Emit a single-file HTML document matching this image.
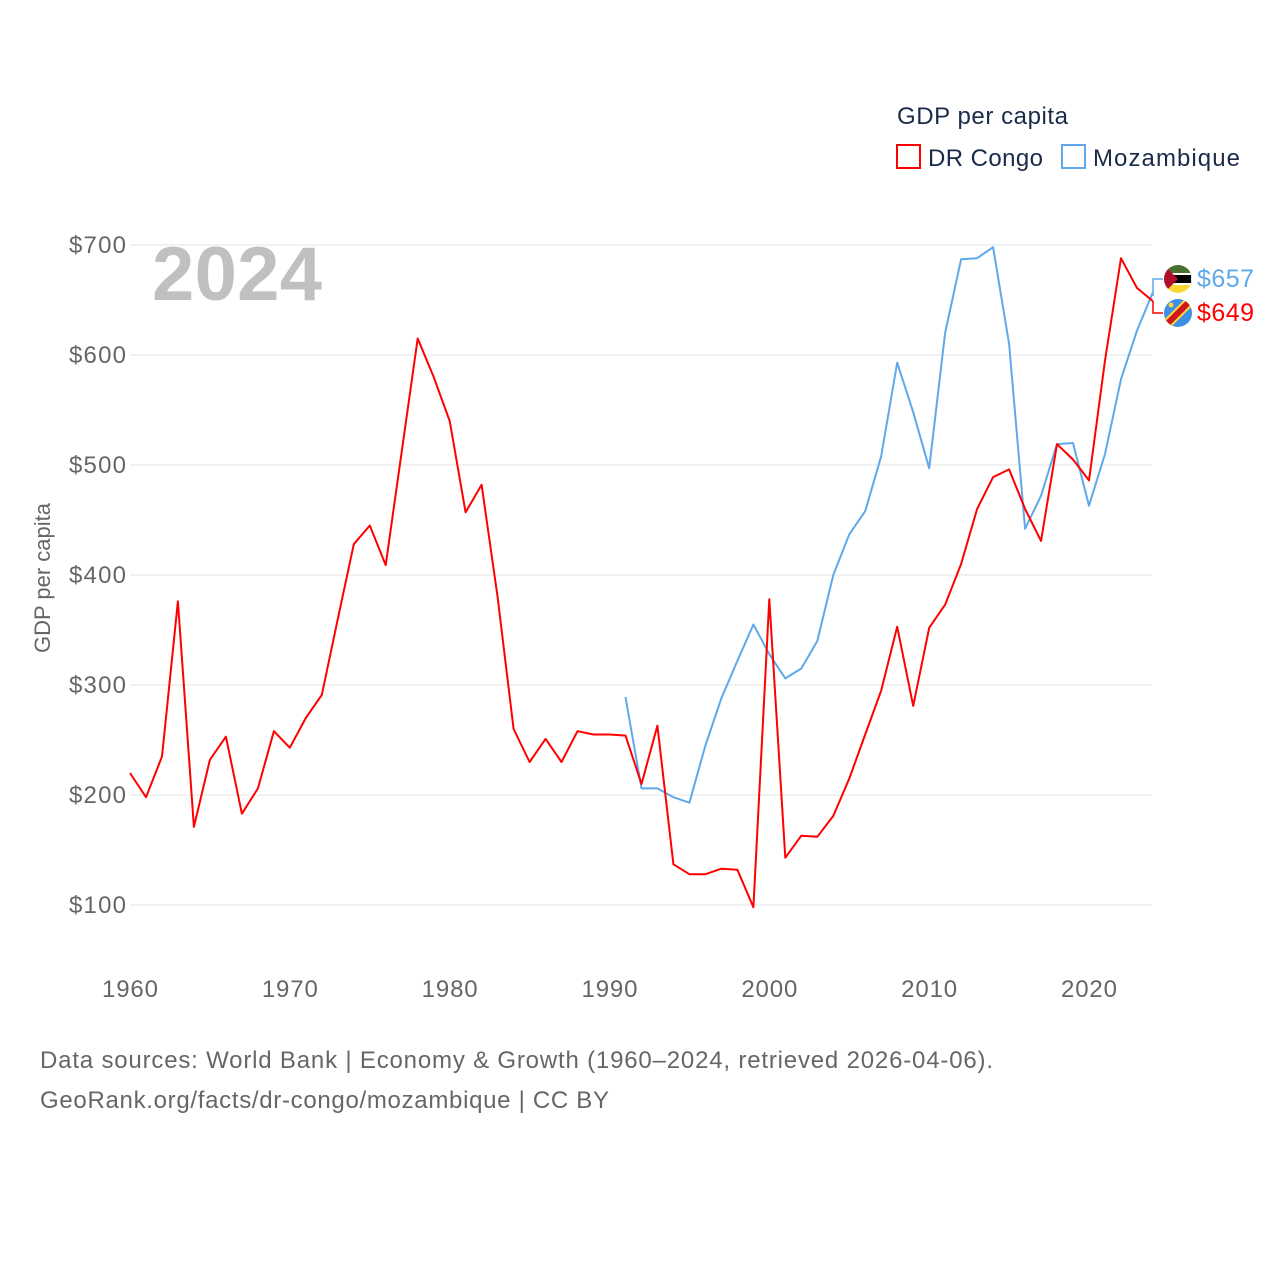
<!DOCTYPE html>
<html><head><meta charset="utf-8"><style>
body{margin:0;background:#fff;font-family:"Liberation Sans",sans-serif}
svg text{font-family:"Liberation Sans",sans-serif}
</style></head><body>
<svg id="c" width="1280" height="1280" xmlns="http://www.w3.org/2000/svg">
<text x="897" y="124" font-size="24" fill="#1a2b4a" textLength="171">GDP per capita</text>
<rect x="897" y="145" width="23" height="23" fill="none" stroke="#f00" stroke-width="2"/>
<text x="928" y="166" font-size="24" fill="#1a2b4a" textLength="115">DR Congo</text>
<rect x="1062" y="145" width="23" height="23" fill="none" stroke="#5fa8ea" stroke-width="2"/>
<text x="1093" y="166" font-size="24" fill="#1a2b4a" textLength="147">Mozambique</text>
<g id="grid"></g>
<text x="152" y="300" font-size="76" font-weight="bold" fill="#c0c0c0" textLength="170">2024</text>
<text transform="translate(50,578) rotate(-90)" text-anchor="middle" font-size="22" fill="#666">GDP per capita</text>
<g id="series"></g>
<g>
<path d="M1163,279 H1153 V296" fill="none" stroke="#5fa8ea" stroke-width="1.5"/>
<path d="M1153,301 V313 H1163" fill="none" stroke="#f00" stroke-width="1.5"/>
<g>
<clipPath id="cm"><circle cx="1178" cy="279" r="14"/></clipPath>
<g clip-path="url(#cm)"><rect x="1164" y="265" width="28" height="28" fill="#fdd835"/><rect x="1164" y="265" width="28" height="9" fill="#4a7030"/><rect x="1164" y="274" width="28" height="10" fill="#000" stroke="#fff" stroke-width="2"/><polygon points="1164,265 1178,279 1164,293" fill="#b0102a"/></g></g>
<g>
<clipPath id="cd"><circle cx="1178" cy="313" r="14"/></clipPath>
<g clip-path="url(#cd)"><rect x="1164" y="299" width="28" height="28" fill="#3d8fe8"/><line x1="1162" y1="329" x2="1194" y2="297" stroke="#fdd835" stroke-width="10"/><line x1="1162" y1="329" x2="1194" y2="297" stroke="#d01818" stroke-width="6"/><circle cx="1171" cy="305" r="2.5" fill="#fdd835"/></g></g>
<text x="1197" y="287" font-size="25" fill="#5fa8ea" textLength="57">$657</text>
<text x="1197" y="321" font-size="25" fill="#f00" textLength="57">$649</text>
</g>
<text x="40" y="1068" font-size="24" fill="#666" textLength="953">Data sources: World Bank | Economy &amp; Growth (1960–2024, retrieved 2026-04-06).</text>
<text x="40" y="1108" font-size="24" fill="#666" textLength="569">GeoRank.org/facts/dr-congo/mozambique | CC BY</text>
</svg>
<script>
const yTicks=[100,200,300,400,500,600,700];
const xTicks=[1960,1970,1980,1990,2000,2010,2020];
const congoStart=1960;
const congoValues=[220,198,235,376,171,232,253,183,206,258,243,270,291,360,428,445,409,512,615,580,540,457,482,380,260,230,251,230,258,255,255,254,210,263,137,128,128,133,132,98,378,143,163,162,181,215,255,295,353,281,352,373,410,460,489,496,460,431,519,505,486,595,688,661,649];
const mozStart=1991;
const mozValues=[289,206,206,198,193,245,288,322,355,328,306,315,340,400,437,458,508,593,548,497,620,687,688,698,610,442,472,519,520,463,510,578,622,657];
const ns="http://www.w3.org/2000/svg";
const X=yr=>130+(yr-1960)*(959/60);
const Y=v=>905-(v-100)*1.1;
const grid=document.getElementById('grid'),ser=document.getElementById('series');
function mk(tag,attrs,parent){const e=document.createElementNS(ns,tag);for(const k in attrs)e.setAttribute(k,attrs[k]);parent.appendChild(e);return e;}
yTicks.forEach(v=>{
 const l=mk('line',{x1:130,x2:1152,y1:Y(v),y2:Y(v),stroke:'#e6e6e6','stroke-width':1},grid);
 
 
 const t=mk('text',{x:126,y:Y(v)+8,'text-anchor':'end','font-size':24,fill:'#666',textLength:57},grid);
 t.textContent='$'+v;
 
 
});
xTicks.forEach(yr=>{
 const t=mk('text',{x:X(yr),y:997,'text-anchor':'middle','font-size':24,fill:'#666',textLength:56},grid);
 t.textContent=yr;
 
 
});
function line(start,vals,color,name){
 const d=vals.map((v,i)=>(i?'L':'M')+X(start+i).toFixed(1)+','+Y(v).toFixed(1)).join('');
 const p=mk('path',{d:d,fill:'none',stroke:color,'stroke-width':2,'stroke-linejoin':'round'},ser);
 
 
}
line(mozStart,mozValues,'#5fa8ea','mozambique-line');
line(congoStart,congoValues,'#f00','drcongo-line');
</script>
</body></html>
